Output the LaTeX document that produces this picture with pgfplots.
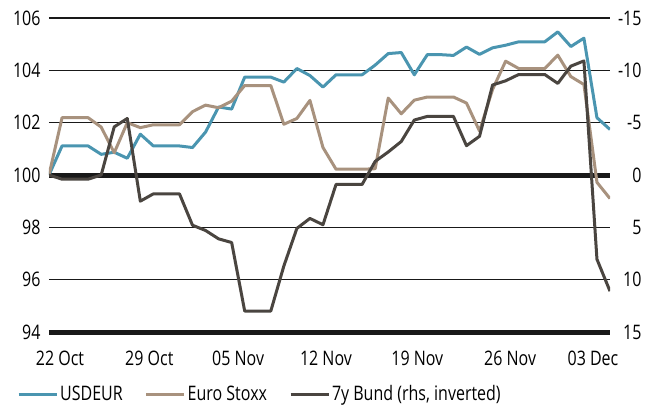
\documentclass[border=0pt]{standalone}
\usepackage{pgfplots}
\pgfplotsset{compat=1.18}
\usepackage{fontspec}
\setmainfont{Open Sans}[FakeStretch=0.8]
\definecolor{cblue}{HTML}{4A95B0}
\definecolor{ctan}{HTML}{A8927E}
\definecolor{cdark}{HTML}{4A4540}
\newcommand{\fs}{\fontsize{20}{24}\selectfont}
\begin{document}
\begin{tikzpicture}
\path (-49pt,-71pt) rectangle (596pt,332pt);
\begin{axis}[
  at={(0,0)}, anchor=south west,
  scale only axis, width=561pt, height=314pt,
  xmin=0, xmax=43, ymin=94, ymax=106,
  axis line style={draw=none},
  major tick length=0pt,
  xtick={0,7,14,21,28,35,42},
  xticklabels={\hspace*{22pt}22 Oct,\hspace*{18pt}29 Oct,\hspace*{13pt}05 Nov,\hspace*{6pt}12 Nov,\hspace*{6pt}19 Nov,\hspace*{9pt}26 Nov,03 Dec\hspace*{8pt}},
  ytick={96,98,102,104,106},
  extra y ticks={94,100},
  extra y tick style={grid style={color=black!90, line width=5pt}},
  ymajorgrids,
  grid style={color=black!90, line width=1.2pt},
  tick label style={font=\fs},
  xticklabel style={yshift=-15pt, anchor=north},
  yticklabel style={xshift=-5pt},
  /pgf/number format/assume math mode=true,
  legend columns=3,
  legend style={draw=none, fill=none, font=\fs, at={(0,0)}, anchor=west, xshift=-35pt, yshift=-62pt,
    /tikz/every even column/.append style={column sep=20pt}},
  legend image code/.code={\draw[#1, line width=3pt] (0pt,0pt) -- (38pt,0pt);},
  every axis plot/.append style={line width=3pt, line join=round},
]
\addplot[cblue] coordinates {
(0,100.00)(1,101.11)(2,101.11)(3,101.11)(4,100.79)(5,100.87)(6,100.64)(7,101.56)
(8,101.11)(9,101.11)(10,101.11)(11,101.05)(12,101.64)(13,102.60)(14,102.52)(15,103.74)
(16,103.74)(17,103.74)(18,103.55)(19,104.07)(20,103.80)(21,103.36)(22,103.83)(23,103.83)
(24,103.83)(25,104.20)(26,104.64)(27,104.68)(28,103.83)(29,104.60)(30,104.60)(31,104.57)
(32,104.89)(33,104.61)(34,104.86)(35,104.96)(36,105.09)(37,105.09)(38,105.09)(39,105.47)
(40,104.91)(41,105.23)(42,102.19)(43,101.74)};
\addlegendentry{USDEUR}
\addplot[ctan] coordinates {
(0,100.00)(1,102.19)(2,102.19)(3,102.19)(4,101.83)(5,100.85)(6,102.00)(7,101.81)
(8,101.92)(9,101.92)(10,101.92)(11,102.42)(12,102.67)(13,102.57)(14,102.82)(15,103.42)
(16,103.42)(17,103.42)(18,101.94)(19,102.16)(20,102.85)(21,101.05)(22,100.22)(23,100.22)
(24,100.22)(25,100.24)(26,102.94)(27,102.34)(28,102.86)(29,102.98)(30,102.98)(31,102.98)
(32,102.75)(33,101.68)(34,103.27)(35,104.35)(36,104.07)(37,104.07)(38,104.07)(39,104.58)
(40,103.76)(41,103.46)(42,99.72)(43,99.10)};
\addlegendentry{Euro Stoxx}
\addlegendimage{cdark}
\addlegendentry{7y Bund (rhs, inverted)}
\end{axis}
\begin{axis}[
  at={(0,0)}, anchor=south west,
  scale only axis, width=561pt, height=314pt,
  xmin=0, xmax=43, ymin=-15, ymax=15, y dir=reverse,
  axis line style={draw=none},
  major tick length=0pt,
  xtick=\empty,
  ytick={-15,-10,-5,0,5,10,15},
  yticklabel pos=right,
  tick label style={font=\fs},
  yticklabel style={anchor=east, xshift=35pt},
  /pgf/number format/assume math mode=true,
  every axis plot/.append style={line width=3pt, line join=round},
]
\addplot[cdark] coordinates {
(0,0)(1,0.4)(2,0.4)(3,0.4)(4,0.0)(5,-4.6)(6,-5.4)(7,2.5)(8,1.8)(9,1.8)(10,1.8)
(11,4.8)(12,5.3)(13,6.1)(14,6.45)(15,13.0)(16,13.0)(17,13.0)(18,8.7)(19,5.1)(20,4.15)
(21,4.75)(22,0.9)(23,0.9)(24,0.9)(25,-1.3)(26,-2.2)(27,-3.2)(28,-5.25)(29,-5.6)(30,-5.6)
(31,-5.6)(32,-2.8)(33,-3.7)(34,-8.6)(35,-9.0)(36,-9.6)(37,-9.6)(38,-9.6)(39,-8.75)
(40,-10.4)(41,-10.9)(42,8.05)(43,11.1)};
\end{axis}
\end{tikzpicture}
\end{document}
